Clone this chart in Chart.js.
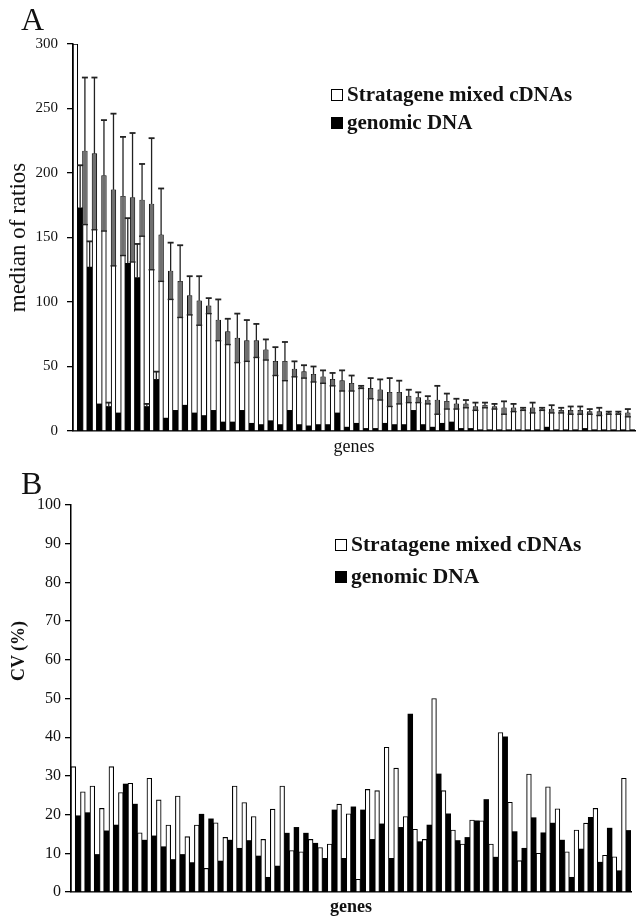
<!DOCTYPE html>
<html lang="en">
<head>
  <meta charset="UTF-8">
  <title>Median of ratios and CV per gene</title>
  <script src="https://cdn.jsdelivr.net/npm/chart.js"></script>
  <style>
    body {
      margin: 0;
      background: #fff;
      width: 643px;
      height: 920px;
      position: relative;
      overflow: hidden;
      font-family: "Liberation Serif", "DejaVu Serif", serif;
      color: #111;
    }
    .panel {
      position: absolute;
      left: 0;
      width: 643px;
      height: 460px;
    }
    #boxA { top: 0; }
    #boxB { top: 460px; }
    .letter {
      position: absolute;
      font-size: 32px;
      line-height: 1;
      left: 21px;
    }
    .key {
      position: absolute;
      width: 10px;
      height: 10px;
      border: 1.5px solid #000;
      background: #fff;
    }
    .key.dark { background: #000; }
    .label {
      position: absolute;
      font-size: 21px;
      font-weight: bold;
      line-height: 1;
      white-space: nowrap;
    }
    .label.big { font-size: 21.5px; }
    .ytitle {
      position: absolute;
      font-size: 18px;
      font-weight: bold;
      line-height: 1;
      white-space: nowrap;
      transform: translate(-50%, -50%) rotate(-90deg);
    }
  </style>
</head>
<body>

  <div class="panel" id="boxA"><canvas id="chartA" width="643" height="460"></canvas></div>
  <div class="panel" id="boxB"><canvas id="chartB" width="643" height="460"></canvas></div>

  <div class="letter" style="top:3px;">A</div>
  <div class="letter" style="top:467px;">B</div>

  <div class="key" style="left:331px; top:89px;"></div>
  <div class="label" style="left:347px; top:84px;">Stratagene mixed cDNAs</div>
  <div class="key dark" style="left:331px; top:117px;"></div>
  <div class="label" style="left:347px; top:112px;">genomic DNA</div>

  <div class="key" style="left:335px; top:539px;"></div>
  <div class="label big" style="left:351px; top:534px;">Stratagene mixed cDNAs</div>
  <div class="key dark" style="left:335px; top:571px;"></div>
  <div class="label big" style="left:351px; top:566px;">genomic DNA</div>

  <div class="ytitle" style="left:18px; top:651px;">CV (%)</div>

  <script>
    // panel A: median of ratios (59 genes, sorted by the cDNA value)
    const medianCdna = [300, 217, 215, 198, 187, 182, 181, 179, 176, 152,
      124, 116, 105, 101, 97, 86, 77, 72, 70, 70,
      63, 54, 54, 48, 46, 44, 42, 40, 39, 37,
      34, 33, 32, 30, 30, 27, 26, 24, 24, 23,
      21, 21, 19, 20, 19, 18, 18, 17, 18, 17,
      17, 16, 16, 16, 15, 15, 14, 14, 14];
    const medianCdnaErr = [0, 57, 59, 43, 59, 46, 50, 28, 51, 36,
      22, 28, 15, 19, 6, 16, 10, 19, 16, 13,
      8, 11, 15, 6, 5, 6, 5, 5, 8, 6,
      1, 8, 8, 11, 9, 5, 4, 3, 11, 6,
      4, 3, 3, 2, 2, 5, 3, 1, 4, 1,
      3, 2, 3, 3, 2, 3, 1, 1, 3];
    const medianGenomic = [173, 127, 21, 19, 14, 130, 119, 19, 40, 10,
      16, 20, 14, 12, 16, 7, 7, 16, 6, 5,
      8, 5, 16, 5, 4, 5, 5, 14, 3, 6,
      2, 2, 6, 5, 5, 16, 5, 3, 6, 7,
      2, 2, 1, 1, 1, 1, 1, 1, 1, 3,
      1, 1, 1, 2, 1, 1, 1, 1, 1];
    const medianGenomicErr = [33, 20, 0, 3, 0, 35, 26, 2, 6, 0,
      0, 0, 0, 0, 0, 0, 0, 0, 0, 0,
      0, 0, 0, 0, 0, 0, 0, 0, 0, 0,
      0, 0, 0, 0, 0, 0, 0, 0, 0, 0,
      0, 0, 0, 0, 0, 0, 0, 0, 0, 0,
      0, 0, 0, 0, 0, 0, 0, 0, 0];

    // panel B: coefficient of variation (%)
    const cvCdna = [32.4, 25.9, 27.4, 21.6, 32.4, 25.7, 28.1, 15.3, 29.4, 23.8,
      17.3, 24.8, 14.3, 17.3, 6.1, 17.9, 14.1, 27.4, 23.1, 19.5,
      13.6, 21.4, 27.4, 10.7, 10.4, 13.6, 11.5, 12.4, 22.7, 20.2,
      3.3, 26.5, 26.2, 37.4, 32.0, 19.5, 16.2, 13.6, 50.0, 26.2,
      16.0, 12.4, 18.6, 18.4, 12.4, 41.2, 23.2, 8.1, 30.5, 10.0,
      27.2, 21.5, 10.4, 16.0, 17.8, 21.6, 9.5, 9.1, 29.4];
    const cvGenomic = [19.7, 20.5, 9.7, 15.8, 17.3, 27.9, 22.7, 13.4, 14.5, 11.7,
      8.4, 9.7, 7.6, 20.1, 18.9, 8.0, 13.4, 11.3, 13.3, 9.3,
      3.8, 6.7, 15.2, 16.7, 15.2, 12.6, 8.7, 21.2, 8.7, 22.0,
      21.2, 13.6, 17.6, 8.7, 16.7, 46.0, 13.0, 17.3, 30.5, 20.2,
      13.3, 14.1, 18.4, 23.9, 9.0, 40.1, 15.6, 11.3, 19.2, 15.3,
      17.8, 13.4, 3.8, 11.1, 19.3, 7.7, 16.5, 5.5, 15.9];

    const ticksA = [0, 50, 100, 150, 200, 250, 300];
    const ticksB = [0, 10, 20, 30, 40, 50, 60, 70, 80, 90, 100];

    const genes = [];
    for (let i = 1; i <= medianCdna.length; i++) genes.push("gene " + i);

    Chart.defaults.font.family = '"Liberation Serif", "Times New Roman", serif';
    Chart.defaults.color = "#111";

    // error bars: lower half shows as a grey band inside the open bars
    const errorBars = {
      id: "errorBars",
      afterDatasetsDraw(chart) {
        const ctx = chart.ctx;
        const yScale = chart.scales.y;
        const area = chart.chartArea;
        ctx.save();
        ctx.beginPath();
        ctx.rect(area.left, area.top, area.right - area.left, area.bottom - area.top);
        ctx.clip();
        chart.data.datasets.forEach((ds, di) => {
          if (!ds.errors) return;
          const meta = chart.getDatasetMeta(di);
          meta.data.forEach((bar, i) => {
            const e = ds.errors[i];
            if (!e) return;
            const v = ds.data[i];
            const x = bar.x;
            const yTop = yScale.getPixelForValue(v + e);
            const yVal = yScale.getPixelForValue(v);
            const yLow = yScale.getPixelForValue(Math.max(v - e, 0));
            const cap = 3;
            if (ds.band) {
              ctx.fillStyle = "#6f6f6f";
              ctx.fillRect(x - bar.width * 0.38, yVal, bar.width * 0.76, yLow - yVal);
              ctx.strokeStyle = "#222";
              ctx.lineWidth = 1.4;
              ctx.beginPath();
              ctx.moveTo(x - cap, yLow);
              ctx.lineTo(x + cap, yLow);
              ctx.stroke();
            }
            ctx.strokeStyle = "#222";
            ctx.lineWidth = 1.3;
            ctx.beginPath();
            ctx.moveTo(x, yVal);
            ctx.lineTo(x, yTop);
            ctx.stroke();
            ctx.lineWidth = 1.8;
            ctx.beginPath();
            ctx.moveTo(x - cap, yTop);
            ctx.lineTo(x + cap, yTop);
            ctx.stroke();
          });
        });
        ctx.restore();
      }
    };

    function makeChart(id, opts) {
      return new Chart(document.getElementById(id), {
        type: "bar",
        data: {
          labels: genes,
          datasets: [
            {
              label: "Stratagene mixed cDNAs",
              data: opts.white,
              errors: opts.whiteErr,
              band: true,
              backgroundColor: "#fff",
              borderColor: "#000",
              borderWidth: 1.1,
              borderSkipped: "bottom",
              categoryPercentage: 1.0,
              barPercentage: 1.0
            },
            {
              label: "genomic DNA",
              data: opts.black,
              errors: opts.blackErr,
              backgroundColor: "#000",
              borderWidth: 0,
              categoryPercentage: 1.0,
              barPercentage: 1.0
            }
          ]
        },
        options: {
          responsive: false,
          animation: false,
          devicePixelRatio: 1,
          layout: { padding: { top: opts.top, right: opts.right, bottom: 0, left: 0 } },
          plugins: {
            legend: { display: false },
            tooltip: { enabled: false }
          },
          scales: {
            x: {
              afterFit: s => { s.height = opts.xHeight; },
              grid: { display: false },
              border: { display: true, color: "#000", width: 1.5 },
              ticks: { display: false },
              title: {
                display: true,
                text: "genes",
                color: "#111",
                font: { size: 18, weight: opts.boldTitles ? "bold" : "normal" },
                padding: { top: 0, bottom: opts.xTitlePad }
              }
            },
            y: {
              min: 0,
              max: opts.ticks[opts.ticks.length - 1],
              afterBuildTicks: s => { s.ticks = opts.ticks.map(v => ({ value: v })); },
              afterFit: s => { s.width = opts.yWidth; },
              grid: {
                display: true,
                drawOnChartArea: false,
                drawTicks: true,
                tickLength: 6,
                color: "#000",
                lineWidth: 1.3
              },
              border: { display: true, color: "#000", width: 1.5 },
              ticks: {
                color: "#111",
                padding: opts.tickPad,
                font: { size: opts.tickSize }
              },
              title: {
                display: opts.yTitle !== "",
                text: opts.yTitle,
                color: "#111",
                font: { size: opts.yTitleSize },
                padding: { top: opts.yTitlePad, bottom: 0 }
              }
            }
          }
        },
        plugins: [errorBars]
      });
    }

    makeChart("chartA", {
      white: medianCdna, whiteErr: medianCdnaErr,
      black: medianGenomic, blackErr: medianGenomicErr,
      ticks: ticksA, yTitle: "median of ratios",
      top: 44, right: 8, xHeight: 29, yWidth: 73,
      tickPad: 9, tickSize: 15, yTitleSize: 23, yTitlePad: 5, xTitlePad: 2,
      boldTitles: false
    });

    // CV (%) title sits above the axis centre, so it is placed as a page label
    makeChart("chartB", {
      white: cvCdna, whiteErr: null,
      black: cvGenomic, blackErr: null,
      ticks: ticksB, yTitle: "",
      top: 45, right: 12, xHeight: 28, yWidth: 71,
      tickPad: 4, tickSize: 16, yTitleSize: 18, yTitlePad: 8, xTitlePad: 2,
      boldTitles: true
    });
  </script>
</body>
</html>
